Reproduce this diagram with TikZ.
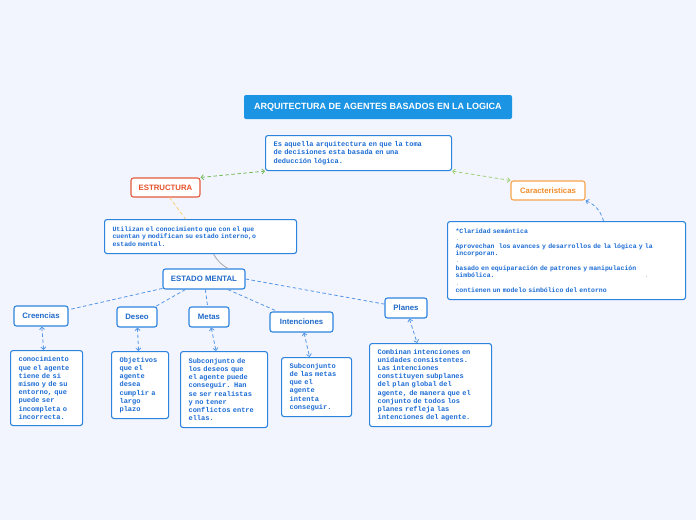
\documentclass[tikz,border=0pt]{standalone}
\usepackage{fontspec}
\setmainfont{Liberation Sans}
\newfontfamily\descfont{Liberation Mono}
\usepackage{xcolor}
\usetikzlibrary{arrows.meta}
\definecolor{mapbg}{RGB}{242,245,254}
\definecolor{titleblue}{RGB}{28,148,228}
\definecolor{boxblue}{RGB}{45,132,222}
\definecolor{labelblue}{RGB}{30,105,200}
\definecolor{textblue}{RGB}{28,108,212}
\definecolor{linkblue}{RGB}{85,150,230}
\definecolor{estrred}{RGB}{228,92,62}
\definecolor{estrtext}{RGB}{230,82,42}
\definecolor{carorange}{RGB}{246,165,78}
\definecolor{cartext}{RGB}{242,140,40}
\definecolor{linkgreen}{RGB}{118,186,92}
\definecolor{linklime}{RGB}{160,208,120}
\definecolor{linkorange}{RGB}{250,204,120}
\definecolor{dotgray}{RGB}{175,185,200}

\begin{document}
\begin{tikzpicture}[
    x=1pt, y=-1pt,
    >={Straight Barb[length=2.5pt,width=5pt]},
    topic/.style={rectangle, rounded corners=2.5pt, draw=boxblue, line width=1.1pt, fill=white, text=labelblue, font=\fontsize{7.8}{9}\selectfont\bfseries, inner sep=0pt},
    note/.style={rectangle, rounded corners=2.5pt, draw=boxblue, line width=1.1pt, fill=white, text=textblue, font=\descfont\fontsize{7}{8.2}\selectfont\bfseries, align=left, inner xsep=8pt, inner ysep=0pt, anchor=north west},
    small note/.style={note, font=\descfont\fontsize{6.5}{7.6}\selectfont\bfseries},
    link/.style={draw=linkblue, line width=0.8pt, dash pattern=on 3.5pt off 2.5pt}
]
\useasboundingbox[fill=mapbg] (0,0) rectangle (696,520);

\node[rectangle, rounded corners=2pt, fill=titleblue, text=white, font=\fontsize{9}{10}\selectfont\bfseries, minimum width=268pt, minimum height=24pt] (title) at (378,107) {ARQUITECTURA DE AGENTES BASADOS EN LA LOGICA};
\node[note, text width=170pt, minimum height=35pt] (defin) at (265,135) {Es aquella arquitectura en que la toma\\de decisiones esta basada en una\\deducción lógica.};

\node[topic, draw=estrred, text=estrtext, minimum width=69pt, minimum height=19pt] (estr) at (165.5,187.5) {ESTRUCTURA};
\node[topic, draw=carorange, text=cartext, minimum width=74pt, minimum height=19pt] (carac) at (548,190.5) {Caracteristicas};
\node[small note, text width=176pt, minimum height=34pt] (estrdesc) at (104,219) {Utilizan el conocimiento que con el que\\cuentan y modifican su estado interno,o\\estado mental.};
\node[small note, text width=222pt, minimum height=78pt, font=\descfont\fontsize{6.5}{7.4}\selectfont\bfseries] (caracdesc) at (447,221) {*Claridad semántica\\{\color{dotgray}.}\\*Aprovechan\ \ los avances y desarrollos de la lógica y la\\incorporan.\\{\color{dotgray}.}\\*basado en equiparación de patrones y manipulación\\simbólica.\hspace{150pt}{\color{dotgray}.}\\{\color{dotgray}.}\\*contienen un modelo simbólico del entorno};

\node[topic, minimum width=82pt, minimum height=20pt] (mental) at (204,279) {ESTADO MENTAL};
\node[topic, minimum width=54pt, minimum height=20pt] (creen) at (41,316) {Creencias};
\node[topic, minimum width=40pt, minimum height=20pt] (deseo) at (137,317) {Deseo};
\node[topic, minimum width=40pt, minimum height=20pt] (metas) at (209,317) {Metas};
\node[topic, minimum width=63pt, minimum height=20pt] (inten) at (301.5,322) {Intenciones};
\node[topic, minimum width=42pt, minimum height=20pt] (planes) at (406,308) {Planes};

\node[note, text width=56pt, minimum height=75pt] (creendesc) at (10,350) {conocimiento\\que el agente\\tiene de si\\mismo y de su\\entorno, que\\puede ser\\incompleta o\\incorrecta.};
\node[note, text width=41pt, minimum height=67pt] (deseodesc) at (111,351) {Objetivos\\que el\\agente\\desea\\cumplir a\\largo\\plazo};
\node[note, text width=71pt, minimum height=76pt] (metasdesc) at (180,351) {Subconjunto de\\los deseos que\\el agente puede\\conseguir. Han\\se ser realistas\\y no tener\\conflictos entre\\ellas.};
\node[note, text width=54pt, minimum height=59pt] (intendesc) at (281,357) {Subconjunto\\de las metas\\que el\\agente\\intenta\\conseguir.};
\node[note, text width=106pt, minimum height=83pt] (planesdesc) at (369,343) {Combinan intenciones en\\unidades consistentes.\\Las intenciones\\constituyen subplanes\\del plan global del\\agente, de manera que el\\conjunto de todos los\\planes refleja las\\intenciones del agente.};

\draw[link, draw=linkgreen, <->] (estr.north east) -- (defin.south west);
\draw[link, draw=linklime, <->] (defin.south east) -- (carac.north west);
\draw[link, draw=linkorange] ([xshift=4pt]estr.south) -- ([xshift=-15pt]estrdesc.north);
\draw[link, ->] ([xshift=37pt]caracdesc.north) to[bend right=25] (carac.south east);
\draw[draw=gray!70, line width=0.8pt] ([xshift=13pt]estrdesc.south) to[bend right=15] ([xshift=24pt]mental.north);

\draw[link] (mental) -- (creen);
\draw[link] (mental) -- (deseo);
\draw[link] (mental) -- (metas);
\draw[link] (mental) -- (inten);
\draw[link] (mental.east) -- (planes);

\draw[link, <->] (creen) -- (creendesc);
\draw[link, <->] (deseo) -- (deseodesc);
\draw[link, <->] (metas) -- (metasdesc);
\draw[link, <->] (inten) -- (intendesc);
\draw[link, <->] (planes) -- (planesdesc);
\end{tikzpicture}
\end{document}
